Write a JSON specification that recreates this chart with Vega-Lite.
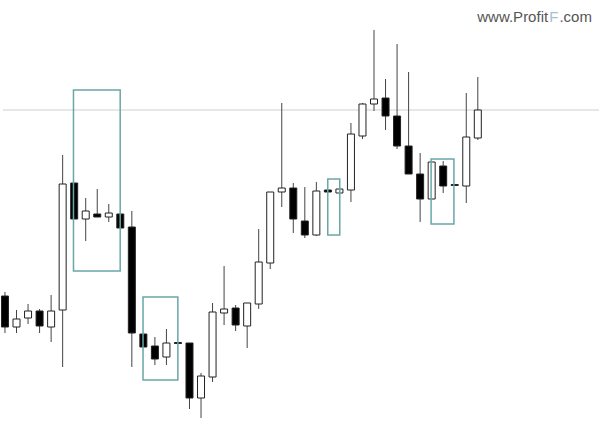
{
  "$schema": "https://vega.github.io/schema/vega-lite/v6.json",
  "width": 600,
  "height": 424,
  "autosize": {"type": "fit", "contains": "padding"},
  "padding": 0,
  "background": "white",
  "config": {"view": {"stroke": null}},
  "datasets": {
    "candles": [
      {"i": 0, "o": 128, "h": 132, "l": 91, "c": 97},
      {"i": 1, "o": 97, "h": 114, "l": 91, "c": 105},
      {"i": 2, "o": 106, "h": 120, "l": 100, "c": 113},
      {"i": 3, "o": 113, "h": 115, "l": 91, "c": 98},
      {"i": 4, "o": 97, "h": 129, "l": 82, "c": 113},
      {"i": 5, "o": 114, "h": 269, "l": 57, "c": 240},
      {"i": 6, "o": 241, "h": 241, "l": 205, "c": 205},
      {"i": 7, "o": 205, "h": 226, "l": 183, "c": 213},
      {"i": 8, "o": 210, "h": 235, "l": 207, "c": 207},
      {"i": 9, "o": 207, "h": 220, "l": 202, "c": 211},
      {"i": 10, "o": 210, "h": 211, "l": 196, "c": 196},
      {"i": 11, "o": 197, "h": 213, "l": 57, "c": 91},
      {"i": 12, "o": 90, "h": 90, "l": 77, "c": 77},
      {"i": 13, "o": 78, "h": 87, "l": 59, "c": 65},
      {"i": 14, "o": 67, "h": 95, "l": 59, "c": 81},
      {"i": 15, "o": 81.5, "h": 81.5, "l": 80.5, "c": 80.5},
      {"i": 16, "o": 81, "h": 81, "l": 15, "c": 26},
      {"i": 17, "o": 26, "h": 51, "l": 6, "c": 48},
      {"i": 18, "o": 47, "h": 121, "l": 42, "c": 112},
      {"i": 19, "o": 111, "h": 158, "l": 99, "c": 115},
      {"i": 20, "o": 116, "h": 119, "l": 93, "c": 99},
      {"i": 21, "o": 98, "h": 121, "l": 76, "c": 121},
      {"i": 22, "o": 120, "h": 195, "l": 115, "c": 162},
      {"i": 23, "o": 161, "h": 232, "l": 155, "c": 232},
      {"i": 24, "o": 232, "h": 321, "l": 217, "c": 236},
      {"i": 25, "o": 236, "h": 241, "l": 191, "c": 205},
      {"i": 26, "o": 203, "h": 237, "l": 186, "c": 189},
      {"i": 27, "o": 189, "h": 242, "l": 188, "c": 233},
      {"i": 28, "o": 234, "h": 234, "l": 232, "c": 232},
      {"i": 29, "o": 231, "h": 235, "l": 231, "c": 235},
      {"i": 30, "o": 234, "h": 301, "l": 222, "c": 290},
      {"i": 31, "o": 288, "h": 321, "l": 285, "c": 320},
      {"i": 32, "o": 320, "h": 394, "l": 313, "c": 325},
      {"i": 33, "o": 326, "h": 345, "l": 294, "c": 308},
      {"i": 34, "o": 308, "h": 380, "l": 275, "c": 278},
      {"i": 35, "o": 278, "h": 352, "l": 250, "c": 250},
      {"i": 36, "o": 250, "h": 271, "l": 202, "c": 225},
      {"i": 37, "o": 225, "h": 262, "l": 225, "c": 262},
      {"i": 38, "o": 258, "h": 263, "l": 231, "c": 238},
      {"i": 39, "o": 239.5, "h": 239.5, "l": 238.5, "c": 238.5},
      {"i": 40, "o": 238, "h": 331, "l": 221, "c": 287},
      {"i": 41, "o": 286, "h": 347, "l": 284, "c": 314}
    ],
    "boxes": [
      {"x1": 5.94, "x2": 9.99, "top": 334, "bottom": 153},
      {"x1": 11.97, "x2": 14.99, "top": 127, "bottom": 44},
      {"x1": 27.99, "x2": 29.03, "top": 245, "bottom": 189},
      {"x1": 36.95, "x2": 38.93, "top": 265, "bottom": 200}
    ],
    "brand": [
      {"part": "www.Profit", "pos": 47.1, "tone": "a", "side": "right"},
      {"part": "F", "pos": 47.2, "tone": "b", "side": "left"},
      {"part": ".com", "pos": 48.08, "tone": "a", "side": "left"}
    ]
  },
  "layer": [
    {
      "data": {"values": [{"level": 314}]},
      "mark": {"type": "rule", "color": "#cfcfcf", "strokeWidth": 1},
      "encoding": {
        "y": {"field": "level", "type": "quantitative", "scale": {"domain": [0, 424], "nice": false, "zero": false, "padding": 0}, "axis": null}
      }
    },
    {
      "data": {"name": "candles"},
      "mark": {"type": "rule", "color": "#444444", "strokeWidth": 1},
      "encoding": {
        "x": {"field": "i", "type": "quantitative", "scale": {"domain": [-0.172, 51.51], "nice": false, "zero": false, "padding": 0}, "axis": null},
        "y": {"field": "l", "type": "quantitative", "scale": {"domain": [0, 424], "nice": false, "zero": false, "padding": 0}, "axis": null},
        "y2": {"field": "h"}
      }
    },
    {
      "data": {"name": "candles"},
      "mark": {"type": "bar", "size": 7, "stroke": "#222222", "strokeWidth": 1},
      "encoding": {
        "x": {"field": "i", "type": "quantitative", "scale": {"domain": [-0.172, 51.51], "nice": false, "zero": false, "padding": 0}, "axis": null},
        "y": {"field": "o", "type": "quantitative", "scale": {"domain": [0, 424], "nice": false, "zero": false, "padding": 0}, "axis": null},
        "y2": {"field": "c"},
        "fill": {"condition": {"test": "datum.c > datum.o", "value": "#ffffff"}, "value": "#000000"}
      }
    },
    {
      "data": {"name": "boxes"},
      "mark": {"type": "rect", "fill": null, "fillOpacity": 0, "stroke": "#6aa6a7", "strokeWidth": 1.5},
      "encoding": {
        "x": {"field": "x1", "type": "quantitative", "scale": {"domain": [-0.172, 51.51], "nice": false, "zero": false, "padding": 0}, "axis": null},
        "x2": {"field": "x2"},
        "y": {"field": "top", "type": "quantitative", "scale": {"domain": [0, 424], "nice": false, "zero": false, "padding": 0}, "axis": null},
        "y2": {"field": "bottom"}
      }
    },
    {
      "data": {"name": "brand"},
      "transform": [{"filter": "datum.side == 'right'"}],
      "mark": {"type": "text", "align": "right", "baseline": "alphabetic", "font": "Liberation Sans", "fontSize": 15, "color": "#555555"},
      "encoding": {
        "x": {"field": "pos", "type": "quantitative", "scale": {"domain": [-0.172, 51.51], "nice": false, "zero": false, "padding": 0}, "axis": null},
        "y": {"datum": 402, "type": "quantitative", "scale": {"domain": [0, 424], "nice": false, "zero": false, "padding": 0}, "axis": null},
        "text": {"field": "part"}
      }
    },
    {
      "data": {"name": "brand"},
      "transform": [{"filter": "datum.side == 'left'"}],
      "mark": {"type": "text", "align": "left", "baseline": "alphabetic", "font": "Liberation Sans", "fontSize": 15},
      "encoding": {
        "x": {"field": "pos", "type": "quantitative", "scale": {"domain": [-0.172, 51.51], "nice": false, "zero": false, "padding": 0}, "axis": null},
        "y": {"datum": 402, "type": "quantitative", "scale": {"domain": [0, 424], "nice": false, "zero": false, "padding": 0}, "axis": null},
        "text": {"field": "part"},
        "color": {"field": "tone", "type": "nominal", "scale": {"domain": ["a", "b"], "range": ["#555555", "#a9bfcc"]}, "legend": null}
      }
    }
  ]
}
